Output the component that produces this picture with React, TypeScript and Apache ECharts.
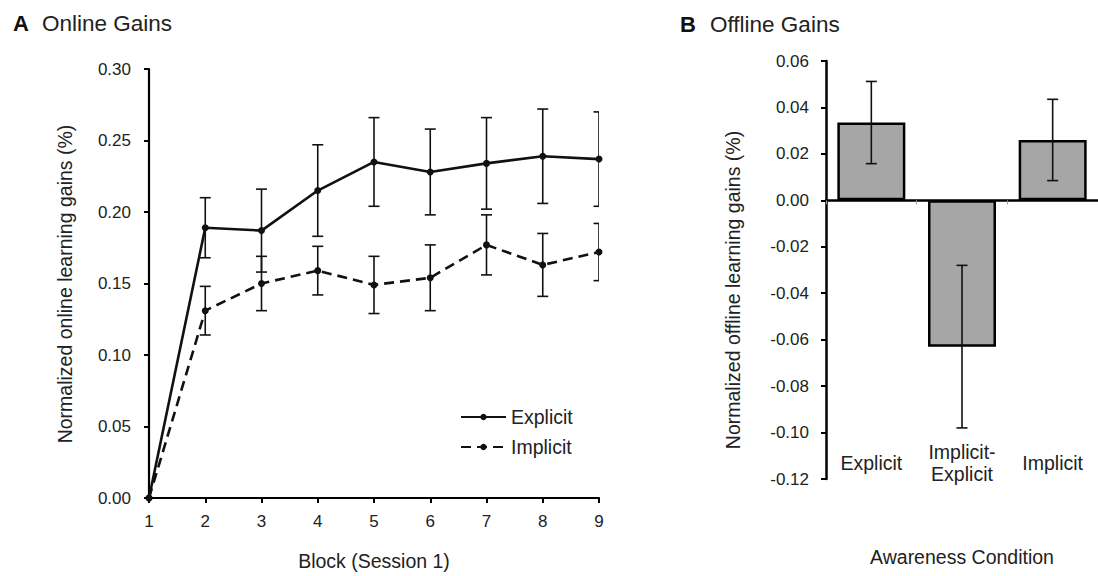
import React, { useEffect, useRef } from "react";
import * as echarts from "echarts";

// ---------- Data ----------
const blocks = [1, 2, 3, 4, 5, 6, 7, 8, 9];
const explicitMean = [0, 0.189, 0.187, 0.215, 0.235, 0.228, 0.234, 0.239, 0.237];
const explicitSE = [0, 0.021, 0.029, 0.032, 0.031, 0.030, 0.032, 0.033, 0.033];
const implicitMean = [0, 0.131, 0.150, 0.159, 0.149, 0.154, 0.177, 0.163, 0.172];
const implicitSE = [0, 0.017, 0.019, 0.017, 0.020, 0.023, 0.021, 0.022, 0.020];

const conditions = ["Explicit", "Implicit-\nExplicit", "Implicit"];
const offlineMean = [0.0335, -0.063, 0.026];
const offlineSE = [0.0177, 0.035, 0.0175];

const onlineTicks = { min: 0, max: 0.3, interval: 0.05 };
const offlineTicks = { min: -0.12, max: 0.06, interval: 0.02 };
const blockTicks = { min: 1, max: 9, interval: 1 };

const FONT = "'Liberation Sans', Arial, Helvetica, sans-serif";
const TXT = "#222";

function errData(xs: number[], mean: number[], se: number[]) {
  const out: number[][] = [];
  xs.forEach((x, i) => {
    if (se[i] > 0) out.push([x, mean[i] - se[i], mean[i] + se[i]]);
  });
  return out;
}

function errRender(params: any, api: any) {
  const x = api.value(0);
  const lo = api.value(1);
  const hi = api.value(2);
  const a = api.coord([x, hi]);
  const b = api.coord([x, lo]);
  const w = 5.5;
  const style = { stroke: "#111", lineWidth: 1.6 };
  return {
    type: "group",
    children: [
      { type: "line", shape: { x1: a[0], y1: a[1], x2: b[0], y2: b[1] }, style },
      { type: "line", shape: { x1: a[0] - w, y1: a[1], x2: a[0] + w, y2: a[1] }, style },
      { type: "line", shape: { x1: b[0] - w, y1: b[1], x2: b[0] + w, y2: b[1] }, style },
    ],
  };
}

export default function App() {
  const ref = useRef<HTMLDivElement>(null);

  useEffect(() => {
    if (!ref.current) return;
    const chart = echarts.init(ref.current, null, { renderer: "svg" });

    const option: any = {
      animation: false,
      backgroundColor: "#fff",
      textStyle: { fontFamily: FONT },
      graphic: [
        { type: "text", left: 13, top: 12, style: { text: "A", font: `bold 22px ${FONT}`, fill: "#111" } },
        { type: "text", left: 42, top: 12, style: { text: "Online Gains", font: `22.5px ${FONT}`, fill: "#222" } },
        { type: "text", left: 680, top: 13, style: { text: "B", font: `bold 22px ${FONT}`, fill: "#111" } },
        { type: "text", left: 710, top: 13, style: { text: "Offline Gains", font: `22.5px ${FONT}`, fill: "#222" } },
        {
          type: "text",
          x: 65,
          y: 284,
          rotation: Math.PI / 2,
          style: {
            text: "Normalized online learning gains (%)",
            font: `19.5px ${FONT}`,
            fill: TXT,
            textAlign: "center",
            textVerticalAlign: "middle",
          },
        },
        {
          type: "text",
          x: 733,
          y: 290,
          rotation: Math.PI / 2,
          style: {
            text: "Normalized offline learning gains (%)",
            font: `19.5px ${FONT}`,
            fill: TXT,
            textAlign: "center",
            textVerticalAlign: "middle",
          },
        },
      ],
      legend: {
        data: ["Explicit", "Implicit"],
        orient: "vertical",
        left: 455,
        top: 402,
        itemWidth: 45,
        itemHeight: 8,
        itemGap: 10,
        textStyle: { fontSize: 19.5, color: TXT, fontFamily: FONT, lineHeight: 20 },
      },
      grid: [
        { left: 149, top: 69, width: 450, height: 429 },
        { left: 826, top: 61, width: 279, height: 418 },
      ],
      xAxis: [
        {
          type: "value",
          gridIndex: 0,
          ...blockTicks,
          name: "Block (Session 1)",
          nameLocation: "middle",
          nameGap: 53,
          nameTextStyle: { fontSize: 19.5, color: TXT, fontFamily: FONT },
          splitLine: { show: false },
          axisLine: { onZero: false, lineStyle: { color: "#000", width: 2.2 } },
          axisTick: { show: true, length: 5, lineStyle: { color: "#000", width: 2 } },
          axisLabel: { fontSize: 17, color: TXT, margin: 15, fontFamily: FONT },
        },
        {
          type: "category",
          gridIndex: 1,
          data: conditions,
          position: "bottom",
          axisLine: { onZero: true, lineStyle: { color: "#000", width: 2.5 } },
          axisTick: { show: true, length: 4, lineStyle: { color: "#999", width: 1 } },
          axisLabel: { show: false },
        },
        {
          type: "category",
          gridIndex: 1,
          data: conditions,
          position: "bottom",
          name: "Awareness Condition",
          nameLocation: "middle",
          nameGap: 68,
          nameTextStyle: { fontSize: 19.5, color: TXT, fontFamily: FONT },
          axisLine: { show: false, onZero: false },
          axisTick: { show: false },
          axisLabel: {
            inside: true,
            margin: 16,
            verticalAlign: "middle",
            fontSize: 19.5,
            lineHeight: 22,
            color: TXT,
            fontFamily: FONT,
          },
        },
      ],
      yAxis: [
        {
          type: "value",
          gridIndex: 0,
          ...onlineTicks,
          splitLine: { show: false },
          axisLine: { show: true, lineStyle: { color: "#000", width: 2.2 } },
          axisTick: { show: true, length: 5, lineStyle: { color: "#000", width: 2 } },
          axisLabel: {
            fontSize: 17,
            color: TXT,
            margin: 18,
            fontFamily: FONT,
            formatter: (v: number) => v.toFixed(2),
          },
        },
        {
          type: "value",
          gridIndex: 1,
          ...offlineTicks,
          splitLine: { show: false },
          axisLine: { show: true, onZero: false, lineStyle: { color: "#000", width: 2.5 } },
          axisTick: { show: true, length: 5, lineStyle: { color: "#000", width: 2 } },
          axisLabel: {
            fontSize: 17,
            color: TXT,
            margin: 17,
            fontFamily: FONT,
            formatter: (v: number) => (Math.abs(v) < 1e-9 ? 0 : v).toFixed(2),
          },
        },
      ],
      series: [
        {
          name: "Explicit",
          type: "line",
          xAxisIndex: 0,
          yAxisIndex: 0,
          data: blocks.map((b, i) => [b, explicitMean[i]]),
          symbol: "circle",
          symbolSize: 7,
          itemStyle: { color: "#111" },
          lineStyle: { color: "#111", width: 2.6, type: "solid" },
          z: 3,
        },
        {
          name: "Implicit",
          type: "line",
          xAxisIndex: 0,
          yAxisIndex: 0,
          data: blocks.map((b, i) => [b, implicitMean[i]]),
          symbol: "circle",
          symbolSize: 7,
          itemStyle: { color: "#111" },
          lineStyle: { color: "#111", width: 2.6, type: [10, 6] },
          z: 3,
        },
        {
          name: "ExplicitErr",
          type: "custom",
          xAxisIndex: 0,
          yAxisIndex: 0,
          clip: true,
          renderItem: errRender,
          encode: { x: 0, y: [1, 2] },
          data: errData(blocks, explicitMean, explicitSE),
          z: 2,
        },
        {
          name: "ImplicitErr",
          type: "custom",
          xAxisIndex: 0,
          yAxisIndex: 0,
          clip: true,
          renderItem: errRender,
          encode: { x: 0, y: [1, 2] },
          data: errData(blocks, implicitMean, implicitSE),
          z: 2,
        },
        {
          name: "Offline",
          type: "bar",
          xAxisIndex: 1,
          yAxisIndex: 1,
          data: offlineMean,
          barWidth: 68,
          itemStyle: { color: "#a6a6a6", borderColor: "#000", borderWidth: 2.5 },
          z: 2,
        },
        {
          name: "OfflineErr",
          type: "custom",
          xAxisIndex: 1,
          yAxisIndex: 1,
          renderItem: errRender,
          encode: { x: 0, y: [1, 2] },
          data: errData([0, 1, 2], offlineMean, offlineSE),
          z: 4,
        },
      ],
    };

    chart.setOption(option);
    return () => chart.dispose();
  }, []);

  return (
    <div
      ref={ref}
      style={{ position: "fixed", left: 0, top: 0, width: 1098, height: 576, background: "#fff" }}
    />
  );
}
